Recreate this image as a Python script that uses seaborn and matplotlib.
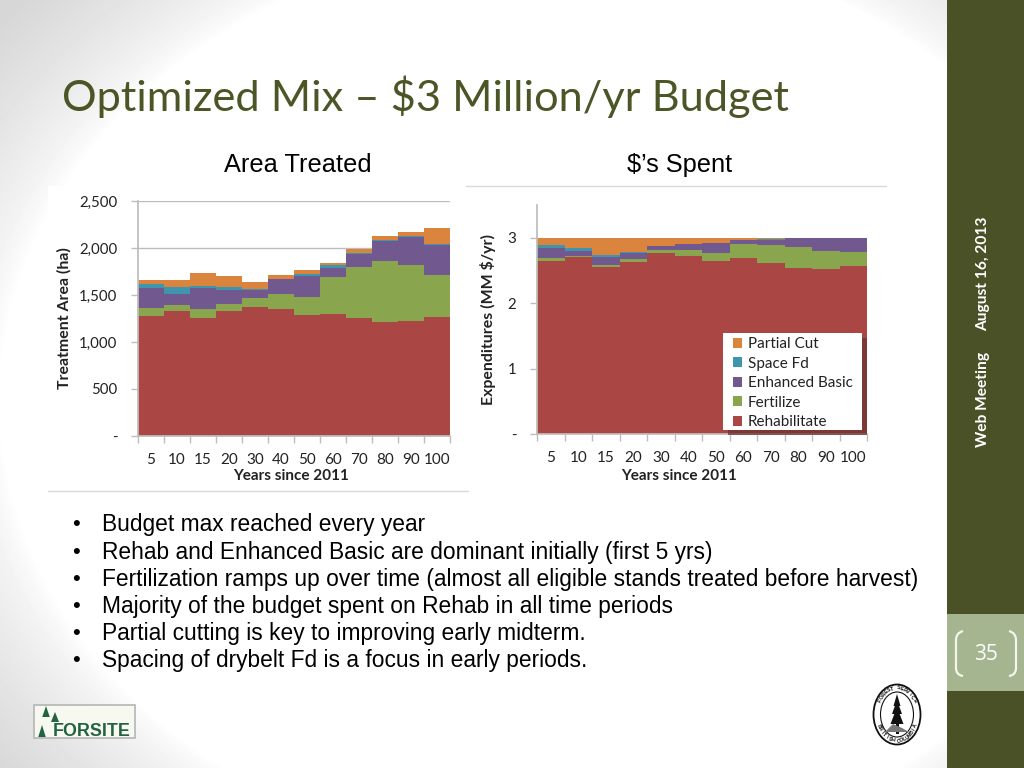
import numpy as np
import pandas as pd
import matplotlib.pyplot as plt
import seaborn as sns
from matplotlib.patches import Rectangle, Polygon, Ellipse, PathPatch
from matplotlib.path import Path

# Dados
anos = ['5', '10', '15', '20', '30', '40', '50', '60', '70', '80', '90', '100']
tratamentos = ['Partial Cut', 'Space Fd', 'Enhanced Basic', 'Fertilize', 'Rehabilitate']
cores = ['#DB843D', '#3D96AE', '#71588F', '#89A54E', '#AA4643']

area_rehab = [1278, 1328, 1260, 1328, 1374, 1356, 1285, 1303, 1253, 1211, 1221, 1267]
area_fert = [82, 64, 93, 74, 92, 153, 199, 390, 547, 653, 600, 444]
area_basic = [213, 120, 220, 149, 82, 159, 220, 96, 135, 209, 298, 316]
area_space = [42, 68, 28, 36, 21, 4, 21, 25, 14, 14, 11, 11]
area_partial = [43, 78, 128, 110, 64, 39, 46, 25, 43, 43, 42, 170]

gasto_rehab = [2.64, 2.70, 2.56, 2.63, 2.76, 2.72, 2.65, 2.69, 2.61, 2.53, 2.52, 2.57]
gasto_fert = [0.05, 0.02, 0.03, 0.04, 0.05, 0.09, 0.11, 0.21, 0.28, 0.33, 0.28, 0.21]
gasto_basic = [0.16, 0.08, 0.12, 0.09, 0.06, 0.09, 0.16, 0.06, 0.08, 0.13, 0.20, 0.22]
gasto_space = [0.04, 0.04, 0.03, 0.02, 0.00, 0.00, 0.00, 0.01, 0.01, 0.00, 0.00, 0.00]
gasto_partial = [0.11, 0.16, 0.26, 0.22, 0.13, 0.10, 0.08, 0.03, 0.02, 0.01, 0.00, 0.00]

marcadores = ['Budget max reached every year',
              'Rehab and Enhanced Basic are dominant initially (first 5 yrs)',
              'Fertilization ramps up over time (almost all eligible stands treated before harvest)',
              'Majority of the budget spent on Rehab in all time periods',
              'Partial cutting is key to improving early midterm.',
              'Spacing of drybelt Fd is a focus in early periods.']

sns.set_theme(style='white')
plt.rcParams['font.family'] = ['Lato', 'DejaVu Sans']
W, H = 1024, 768
fig = plt.figure(figsize=(10.24, 7.68), dpi=100)


def eixo_px(x0, y0, x1, y1):
    return fig.add_axes([x0 / W, 1 - y1 / H, (x1 - x0) / W, (y1 - y0) / H])


# Fundo do slide em coordenadas de pixel
bg = fig.add_axes([0, 0, 1, 1], zorder=0)
yy, xx = np.mgrid[0:H, 0:W]
dist = np.sqrt(((xx - 560) / 560) ** 2 + ((yy - 400) / 460) ** 2)
bg.imshow(1 - 0.16 * np.clip((dist - 1) / 0.3, 0, 1) ** 0.7, cmap='gray', vmin=0, vmax=1,
          extent=(0, W, H, 0), aspect='auto')
bg.set_xlim(0, W)
bg.set_ylim(H, 0)
bg.axis('off')

bg.add_patch(Rectangle((947, 0), 77, H, color='#4A5127', lw=0))
bg.add_patch(Rectangle((947, 614), 77, 77, color='#A4B58F', lw=0))
bg.text(983, 274, 'August 16, 2013', rotation=90, color='white', fontsize=11.2,
        fontweight='bold', ha='center', va='center')
bg.text(983, 399, 'Web Meeting', rotation=90, color='white', fontsize=11.2,
        fontweight='bold', ha='center', va='center')
bg.text(986, 654, '35', color='white', fontsize=15, ha='center', va='center',
        family='Open Sans')
for x0, x1 in [(963, 956), (1009, 1016)]:
    caminho = Path([(x0, 631), (x1, 633), (x1, 640), (x1, 668), (x1, 675), (x0, 676)],
                   [Path.MOVETO, Path.CURVE3, Path.CURVE3, Path.LINETO, Path.CURVE3, Path.CURVE3])
    bg.add_patch(PathPatch(caminho, fc='none', ec='#F4F6EC', lw=1.6))

bg.text(62, 97, 'Optimized Mix \u2013 \\$3 Million/yr Budget', color='#4B5526', fontsize=31.25,
        ha='left', va='center', family='Lato')
bg.text(298, 165, 'Area Treated', color='black', fontsize=18.3, ha='center', va='center',
        family='Liberation Sans')
bg.text(680, 165, '\\$\u2019s Spent', color='black', fontsize=18.3, ha='center', va='center',
        family='Liberation Sans')

bg.add_patch(Rectangle((48, 186), 420, 305, color='white', lw=0))
bg.add_patch(Rectangle((466, 186), 420, 304, color='white', lw=0))
bg.plot([466, 886], [186, 186], color='#D9D9D9', lw=1)
bg.plot([48, 468], [491, 491], color='#D9D9D9', lw=1)

for i, linha in enumerate(marcadores):
    y = 525 + i * 27.2
    bg.text(72, y, '\u2022', fontsize=16, va='center', ha='left', family='Liberation Sans', color='black')
    bg.text(102, y, linha, fontsize=16.35, va='center', ha='left', family='Liberation Sans', color='black')

# Logo Forsite
bg.add_patch(Rectangle((34, 705), 101, 33, fc='#F7F8F0', ec='#B5B5B5', lw=1.2))
for px, py, larg, alt in [(46, 717, 7.5, 11), (55, 722, 8, 10), (42, 737, 7.5, 12)]:
    bg.add_patch(Polygon([(px - larg / 2, py), (px + larg / 2, py), (px, py - alt)], color='#23633F', lw=0))
bg.text(52.5, 731, 'FORSITE', color='#23633F', fontsize=12.9, fontweight='bold', va='center', ha='left',
        family='Liberation Sans')

# Selo
bg.add_patch(Rectangle((871, 682), 55, 65, color='white', lw=0))
bg.add_patch(Ellipse((897, 714.5), 47, 60, fc='white', ec='#111111', lw=1.3))
bg.add_patch(Ellipse((897, 714.5), 33, 45, fc='white', ec='#111111', lw=0.8))
for topo, base, larg in [(694, 706, 7), (700, 714, 10), (707, 724, 13)]:
    bg.add_patch(Polygon([(897 - larg / 2, base), (897 + larg / 2, base), (897, topo)], color='#111111', lw=0))
bg.add_patch(Rectangle((895.5, 720), 3, 14, color='#111111', lw=0))
bg.add_patch(Polygon([(885, 732), (893, 724), (902, 728), (909, 732)], color='#777777', lw=0))
for texto, inicio, fim, sinal in [('FOREST SERVICE', 150, 30, 1), ('BRITISH COLUMBIA', 205, 335, -1)]:
    for letra, ang in zip(texto, np.linspace(inicio, fim, len(texto))):
        a = np.radians(ang)
        bg.text(897 + 20 * np.cos(a), 714.5 - 26.5 * np.sin(a), letra, fontsize=3.8, fontweight='bold',
                color='#111111', ha='center', va='center',
                rotation=ang - 90 if sinal > 0 else ang + 90, family='Liberation Sans')


def grafico(ax, valores, ymax, yticks, ylabels, titulo_y, grade):
    df = pd.DataFrame({'ano': np.tile(anos, 5),
                       'tratamento': np.repeat(tratamentos, len(anos)),
                       'valor': np.concatenate(valores)})
    sns.histplot(data=df, x='ano', weights='valor', hue='tratamento', hue_order=tratamentos,
                 multiple='stack', discrete=True, palette=cores, alpha=1, linewidth=0, ax=ax)
    ax.set_facecolor('none')
    ax.set_xlim(-0.5, 11.5)
    ax.set_ylim(0, ymax)
    ax.set_xticks(range(12))
    ax.set_xticklabels(anos, fontsize=11, color='#222222')
    ax.set_xticks(np.arange(-0.5, 12), minor=True)
    ax.tick_params(axis='x', which='major', length=0, pad=12)
    ax.tick_params(axis='x', which='minor', length=5, width=1, color='#BDBDBD', bottom=True)
    ax.set_yticks(yticks)
    ax.set_yticklabels(ylabels, fontsize=10.8, color='#222222')
    ax.tick_params(axis='y', length=5, width=1, color='#BDBDBD', left=True, pad=10)
    ax.set_xlabel('Years since 2011', fontsize=11, fontweight='bold', color='#222222')
    ax.set_ylabel(titulo_y, fontsize=11.4, fontweight='bold', color='#222222')
    sns.despine(ax=ax)
    for lado in ['left', 'bottom']:
        ax.spines[lado].set_color('#BDBDBD')
    if grade:
        ax.grid(axis='y', color='#BDBDBD', lw=1)
        ax.set_axisbelow(True)


ax1 = eixo_px(138, 201, 450, 436)
ax1.set_zorder(2)
grafico(ax1, [area_partial, area_space, area_basic, area_fert, area_rehab], 2500,
        [0, 500, 1000, 1500, 2000, 2500], ['-', '500', '1,000', '1,500', '2,000', '2,500'],
        'Treatment Area (ha)', True)
ax1.get_legend().remove()
ax1.yaxis.set_label_coords(-0.212, 0.50)
ax1.xaxis.set_label_coords(0.49, -0.14)

ax2 = eixo_px(537, 205, 867, 434)
ax2.set_zorder(2)
grafico(ax2, [gasto_partial, gasto_space, gasto_basic, gasto_fert, gasto_rehab], 3.5,
        [0, 1, 2, 3], ['-', '1', '2', '3'], 'Expenditures (MM \\$/yr)', False)
ax2.yaxis.set_label_coords(-0.124, 0.498)
ax2.xaxis.set_label_coords(0.43, -0.153)
sns.move_legend(ax2, 'lower left', bbox_to_anchor=(0.594, 0.021), title=None, frameon=False, fontsize=11,
                labelspacing=0.36, handlelength=0.62, handleheight=0.62, handletextpad=0.36, borderpad=0,
                borderaxespad=0, labelcolor='#222222')
# caixa da legenda com sombra
ax2.add_patch(Rectangle((728, 338), 139, 97, fc='#6E3230', ec='none', alpha=0.75, transform=bg.transData,
                        zorder=4, clip_on=False))
ax2.add_patch(Rectangle((723, 333), 139, 97, fc='white', ec='none', transform=bg.transData,
                        zorder=4.5, clip_on=False))

plt.savefig('out.png', dpi=100)
